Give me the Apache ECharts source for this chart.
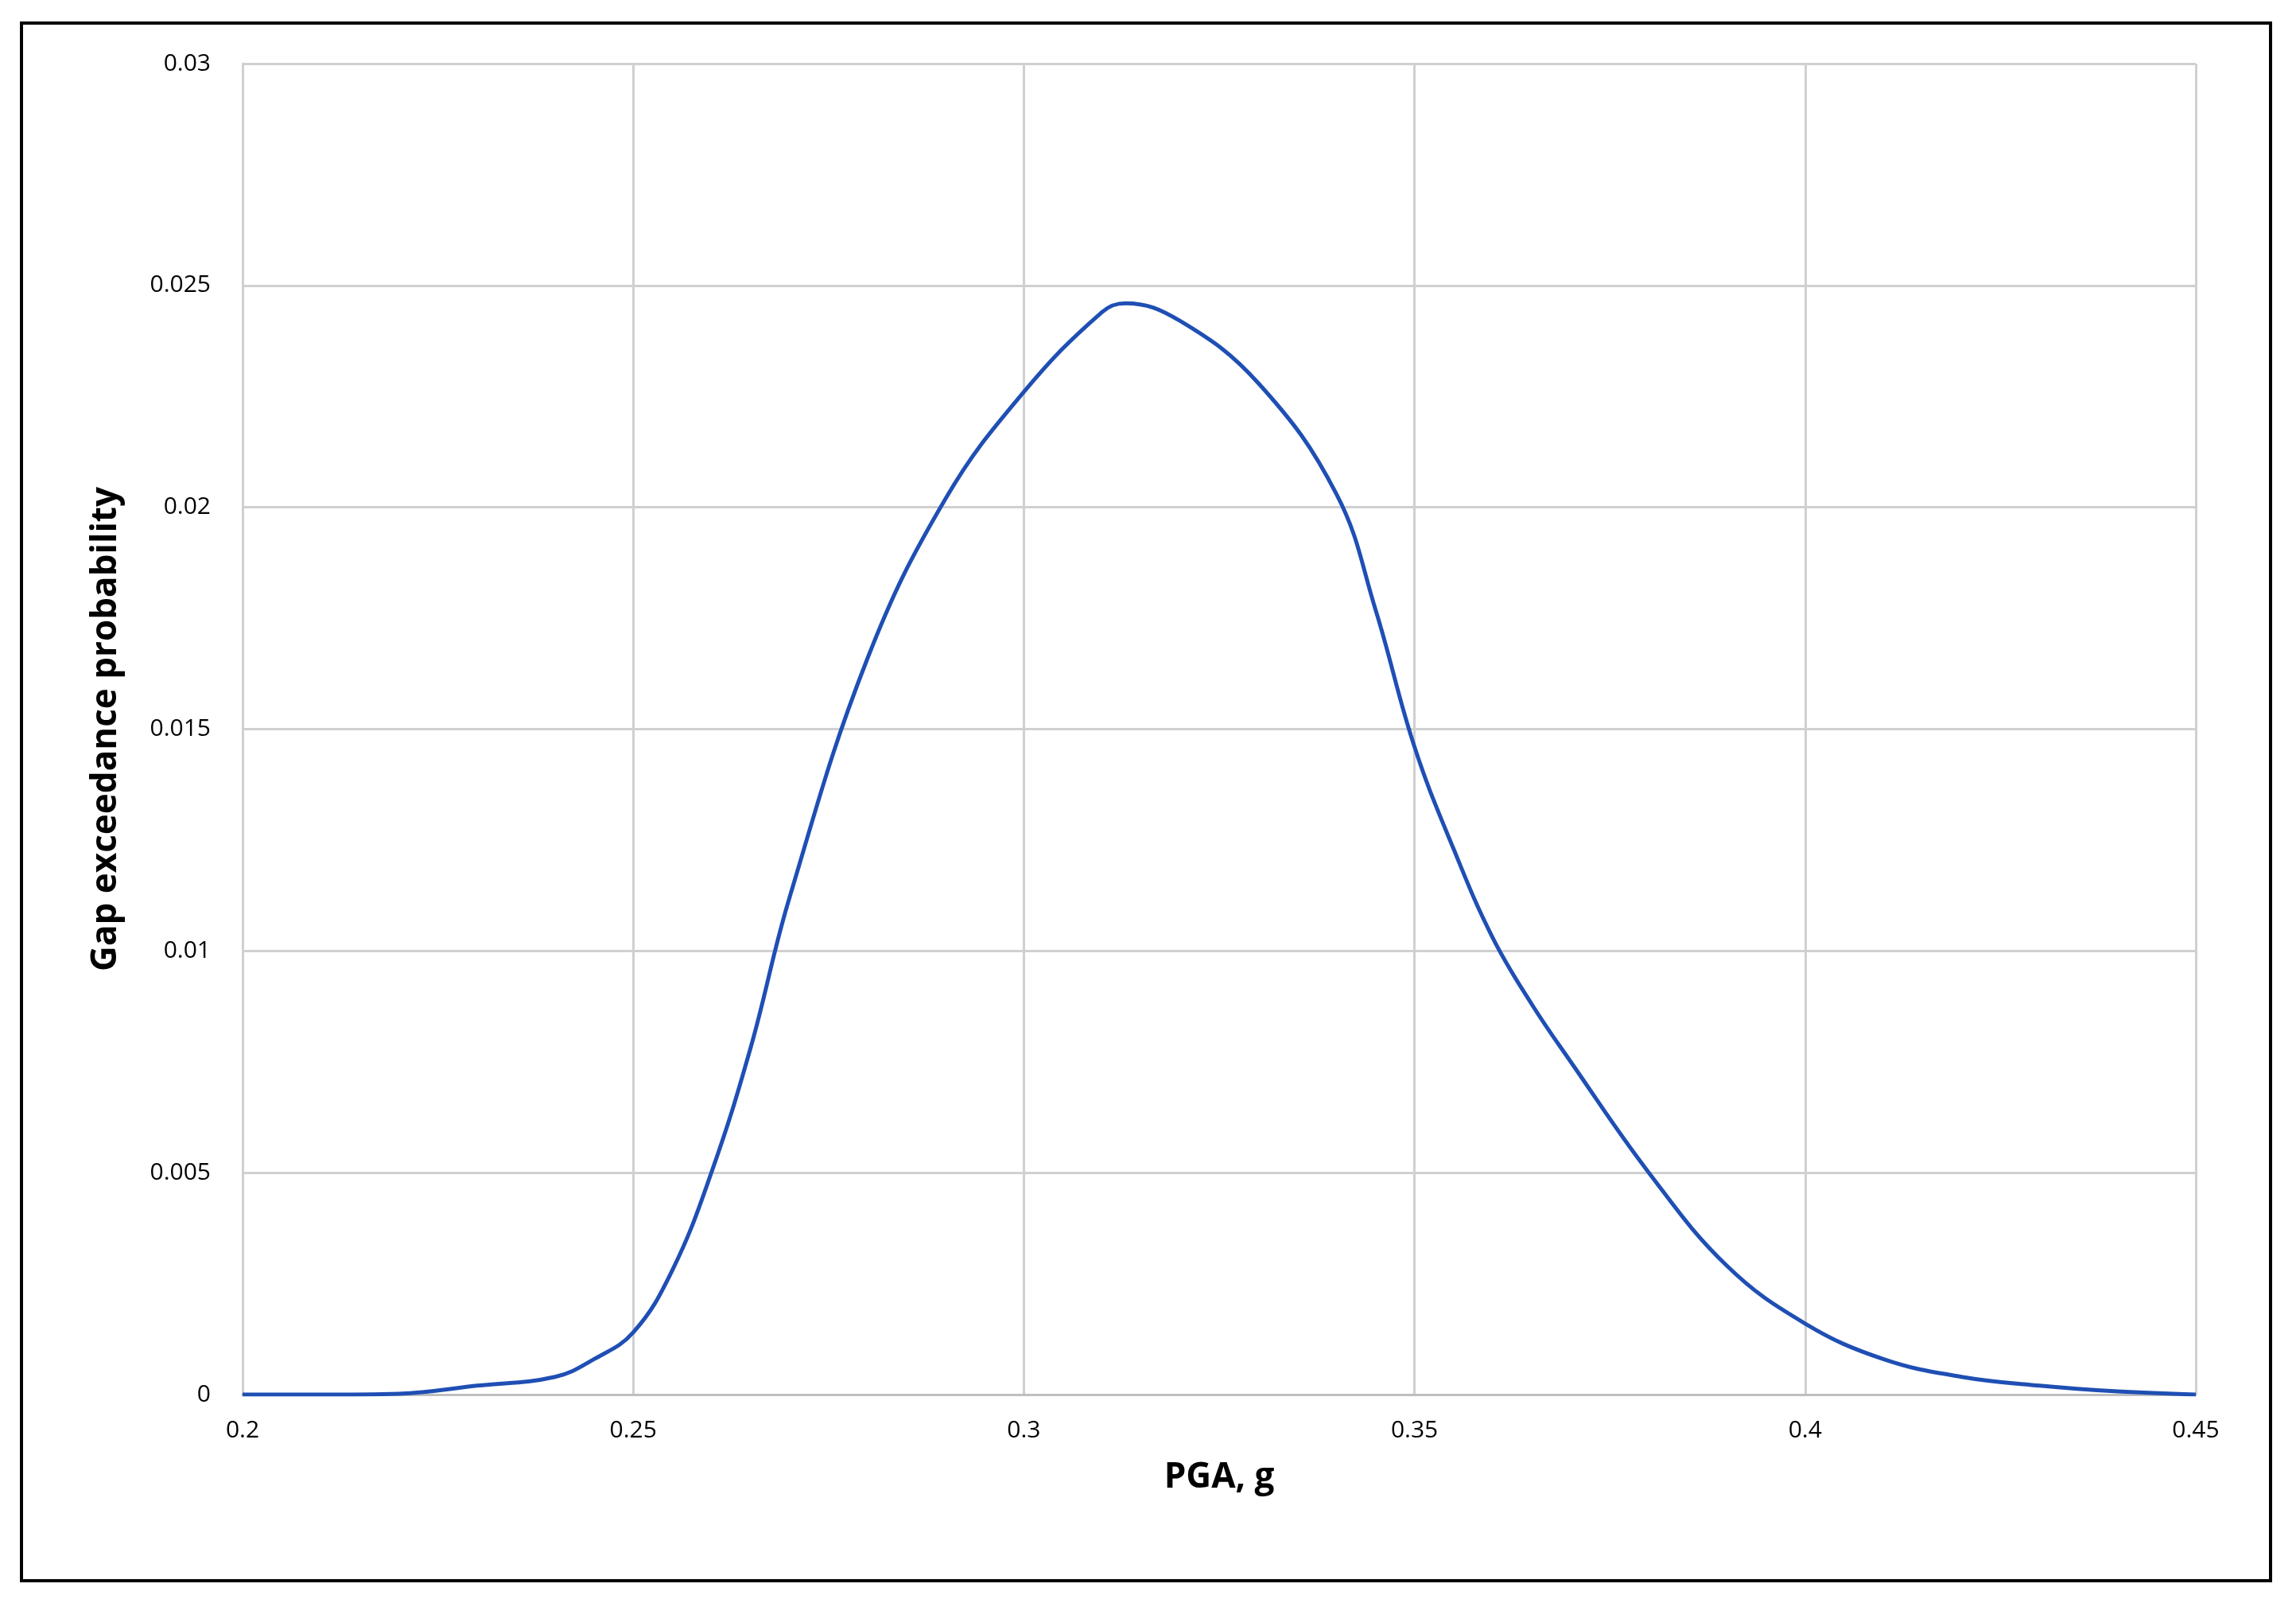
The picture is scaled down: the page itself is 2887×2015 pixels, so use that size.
<!DOCTYPE html>
<html>
<head>
<meta charset="utf-8">
<script src="https://cdn.jsdelivr.net/npm/echarts@6/dist/echarts.min.js"></script>
<style>
html,body{margin:0;padding:0;background:#fff;}
#frame{position:absolute;left:25px;top:27px;width:2832px;height:1962px;border:4px solid #000;box-sizing:border-box;}
#chart{position:absolute;left:0;top:0;width:2887px;height:2015px;}
</style>
</head>
<body>
<div id="frame"></div>
<div id="chart"></div>
<script>
// PGA (g) 和 超越概率
const pga = [0.2, 0.21, 0.22, 0.23, 0.24, 0.245, 0.25, 0.255, 0.26, 0.265, 0.27, 0.28, 0.29, 0.3, 0.31, 0.313, 0.32, 0.33, 0.34, 0.345, 0.35, 0.355, 0.36, 0.365, 0.37, 0.38, 0.39, 0.4, 0.41, 0.42, 0.43, 0.44, 0.45];
const prob = [0, 0, 0.00002, 0.0002, 0.0004, 0.0008, 0.0014, 0.0028, 0.005, 0.0078, 0.0112, 0.0166, 0.0202, 0.0226, 0.0244, 0.0246, 0.0242, 0.0228, 0.0203, 0.0177, 0.0146, 0.0123, 0.0103, 0.0088, 0.0075, 0.005, 0.0029, 0.0016, 0.0008, 0.0004, 0.0002, 0.00007, 0];

const font = "'Open Sans', 'Noto Sans', sans-serif";
const myChart = echarts.init(document.querySelector("#chart"));
myChart.setOption({
	animation: false,
	grid: { left: 305, right: 126, top: 80, bottom: 262 },
	xAxis: {
		type: "value",
		min: 0.2,
		max: 0.45,
		interval: 0.05,
		name: "PGA, g",
		nameLocation: "middle",
		nameGap: 82,
		nameTextStyle: { fontSize: 44, fontWeight: "bold", color: "#000", fontFamily: font },
		axisLine: { show: true, lineStyle: { color: "#bfbfbf", width: 3 } },
		axisTick: { show: false },
		axisLabel: { fontSize: 30, color: "#000", margin: 30, fontFamily: font },
		splitLine: { show: true, lineStyle: { color: "#d0d0d0", width: 3 } },
	},
	yAxis: {
		type: "value",
		min: 0,
		max: 0.03,
		interval: 0.005,
		name: "Gap exceedance probability",
		nameLocation: "middle",
		nameGap: 150,
		nameTextStyle: { fontSize: 44, fontWeight: "bold", color: "#000", fontFamily: font },
		axisLine: { show: true, lineStyle: { color: "#d0d0d0", width: 3 } },
		axisTick: { show: false },
		axisLabel: { fontSize: 30, color: "#000", margin: 40, fontFamily: font },
		splitLine: { show: true, lineStyle: { color: "#d0d0d0", width: 3 } },
	},
	series: [
		{
			type: "line",
			data: pga.map((x, i) => [x, prob[i]]),
			smooth: 0.4,
			symbol: "none",
			lineStyle: { color: "#1f4fb4", width: 5 },
		},
	],
});
</script>
</body>
</html>
